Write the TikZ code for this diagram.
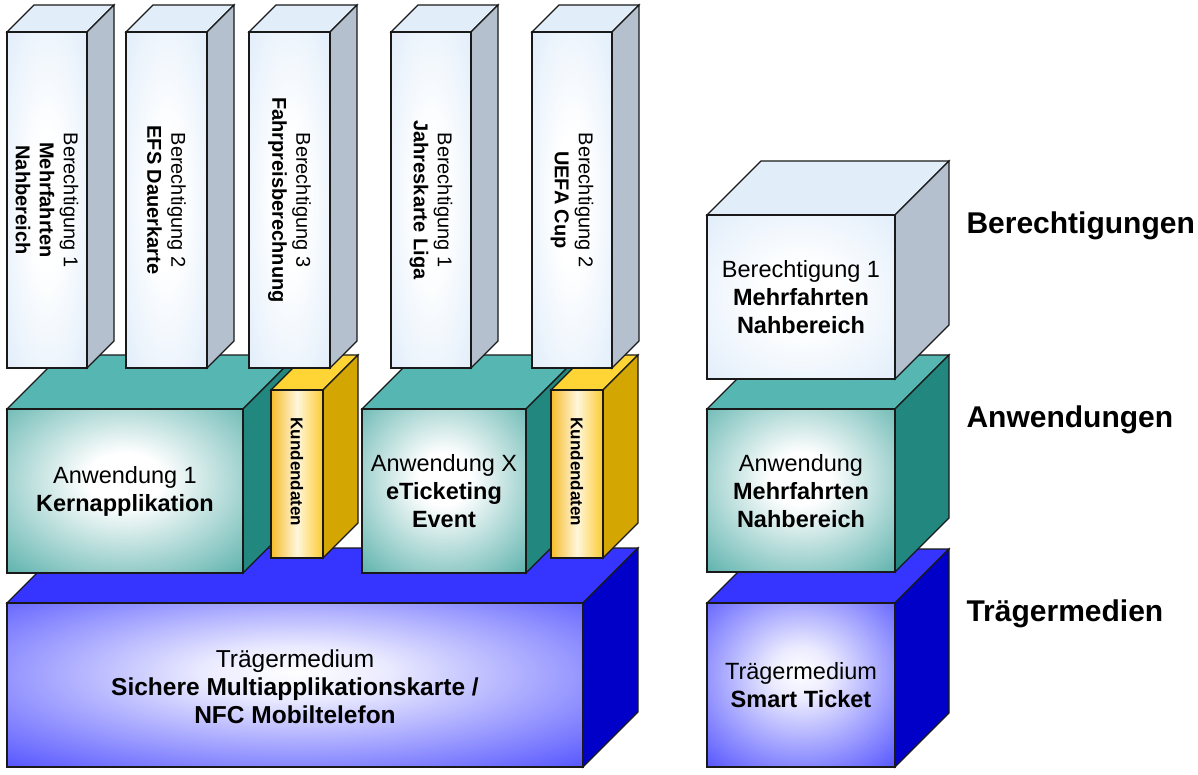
\documentclass[tikz,border=0pt]{standalone}
\usepackage{fontspec}
\setmainfont{Liberation Sans}
\definecolor{coltop}{HTML}{E1EEFA}
\definecolor{colside}{HTML}{B4C0CD}
\definecolor{colout}{HTML}{D3E5F8}
\definecolor{tealtop}{HTML}{56B7B2}
\definecolor{tealside}{HTML}{22877F}
\definecolor{tealout}{HTML}{2F9C95}
\definecolor{kutop}{HTML}{FFD536}
\definecolor{kuside}{HTML}{D4A602}
\definecolor{kuL}{HTML}{F6BC2A}
\definecolor{kuM}{HTML}{FFF6DC}
\definecolor{kuR}{HTML}{FCCB32}
\definecolor{bltop}{HTML}{3535FF}
\definecolor{blside}{HTML}{0000C8}
\definecolor{blout}{HTML}{2A2AFF}
\pgfdeclareradialshading{glowcol}{\pgfpoint{0bp}{0bp}}{color(0bp)=(white); color(10bp)=(white); color(48bp)=(colout); color(100bp)=(colout)}
\pgfdeclareradialshading{glowteal}{\pgfpoint{0bp}{4bp}}{color(0bp)=(white); color(8bp)=(white); color(46bp)=(tealout); color(100bp)=(tealout)}
\pgfdeclareradialshading{glowblue}{\pgfpoint{0bp}{4bp}}{color(0bp)=(white); color(8bp)=(white!92!blue); color(46bp)=(blout); color(100bp)=(blout)}
\newcommand{\drawcuboid}[8]{%
  \filldraw[fill=#7,boxline] (#1,#2) -- (#1+#5,#2-#5) -- (#1+#3+#5,#2-#5) -- (#1+#3,#2) -- cycle;
  \filldraw[fill=#8,boxline] (#1+#3,#2) -- (#1+#3+#5,#2-#5) -- (#1+#3+#5,#2+#4-#5) -- (#1+#3,#2+#4) -- cycle;
  \path[#6,boxline,draw] (#1,#2) rectangle (#1+#3,#2+#4);
}
\begin{document}
\begin{tikzpicture}[x=1pt,y=-1pt,
  boxline/.style={draw=black!90,line width=1.2pt,line join=miter},
  fcol/.style={shading=glowcol},
  fteal/.style={shading=glowteal},
  fblue/.style={shading=glowblue},
  fkunde/.style={left color=kuL,right color=kuR,middle color=kuM},
  coltext/.style={rotate=-90,align=center,font=\fontsize{20}{24}\selectfont},
  boxtext/.style={align=center,font=\fontsize{23.5}{28}\selectfont},
  bigtext/.style={align=center,font=\fontsize{24.5}{28}\selectfont},
  kutext/.style={rotate=-90,font=\fontsize{17}{20}\selectfont\bfseries},
  layertext/.style={anchor=base west,font=\fontsize{30}{36}\selectfont\bfseries}]
\useasboundingbox (0,0) rectangle (1198,774);
\fill[white] (0,0) rectangle (1198,774);
% left stack
\drawcuboid{7}{603}{576}{164}{55}{fblue}{bltop}{blside}
\drawcuboid{7}{409}{236}{164}{54}{fteal}{tealtop}{tealside}
\drawcuboid{271}{390}{52}{168}{35}{fkunde}{kutop}{kuside}
\drawcuboid{362}{409}{164}{164}{54}{fteal}{tealtop}{tealside}
\drawcuboid{551}{390}{52}{168}{35}{fkunde}{kutop}{kuside}
\drawcuboid{7}{32}{80}{336}{27}{fcol}{coltop}{colside}
\drawcuboid{126}{32}{81}{336}{27}{fcol}{coltop}{colside}
\drawcuboid{249}{32}{81}{336}{27}{fcol}{coltop}{colside}
\drawcuboid{391}{32}{80}{336}{27}{fcol}{coltop}{colside}
\drawcuboid{532}{32}{80}{336}{27}{fcol}{coltop}{colside}
% right stack
\drawcuboid{707}{603}{188}{164}{54}{fblue}{bltop}{blside}
\drawcuboid{707}{409}{188}{163}{54}{fteal}{tealtop}{tealside}
\drawcuboid{707}{215}{188}{164}{54}{fcol}{coltop}{colside}
% texts
\node[coltext] (c1) at (47,200) {Berechtigung 1\\\textbf{Mehrfahrten}\\\textbf{Nahbereich}};
\node[coltext] (c2) at (166.5,200) {Berechtigung 2\\\textbf{EFS Dauerkarte}};
\node[coltext] (c3) at (289.5,200) {Berechtigung 3\\\textbf{Fahrpreisberechnung}};
\node[coltext] (c4) at (431,200) {Berechtigung 1\\\textbf{Jahreskarte Liga}};
\node[coltext] (c5) at (572,200) {Berechtigung 2\\\textbf{UEFA Cup}};
\node[boxtext] (a1) at (125,491) {Anwendung 1\\\textbf{Kernapplikation}};
\node[boxtext] (ax) at (444,491) {Anwendung X\\\textbf{eTicketing}\\\textbf{Event}};
\node[kutext] (k1) at (297,472) {Kundendaten};
\node[kutext] (k2) at (577,472) {Kundendaten};
\node[bigtext] (t1) at (295,687) {Trägermedium\\\textbf{Sichere Multiapplikationskarte /}\\\textbf{NFC Mobiltelefon}};
\node[boxtext] (rb) at (801,297) {Berechtigung 1\\\textbf{Mehrfahrten}\\\textbf{Nahbereich}};
\node[boxtext] (ra) at (801,491) {Anwendung\\\textbf{Mehrfahrten}\\\textbf{Nahbereich}};
\node[boxtext] (rt) at (801,685) {Trägermedium\\\textbf{Smart Ticket}};
\node[layertext] (l1) at (963,233) {Berechtigungen};
\node[layertext] (l2) at (963,427) {Anwendungen};
\node[layertext] (l3) at (963,621) {Trägermedien};
\end{tikzpicture}
\end{document}
